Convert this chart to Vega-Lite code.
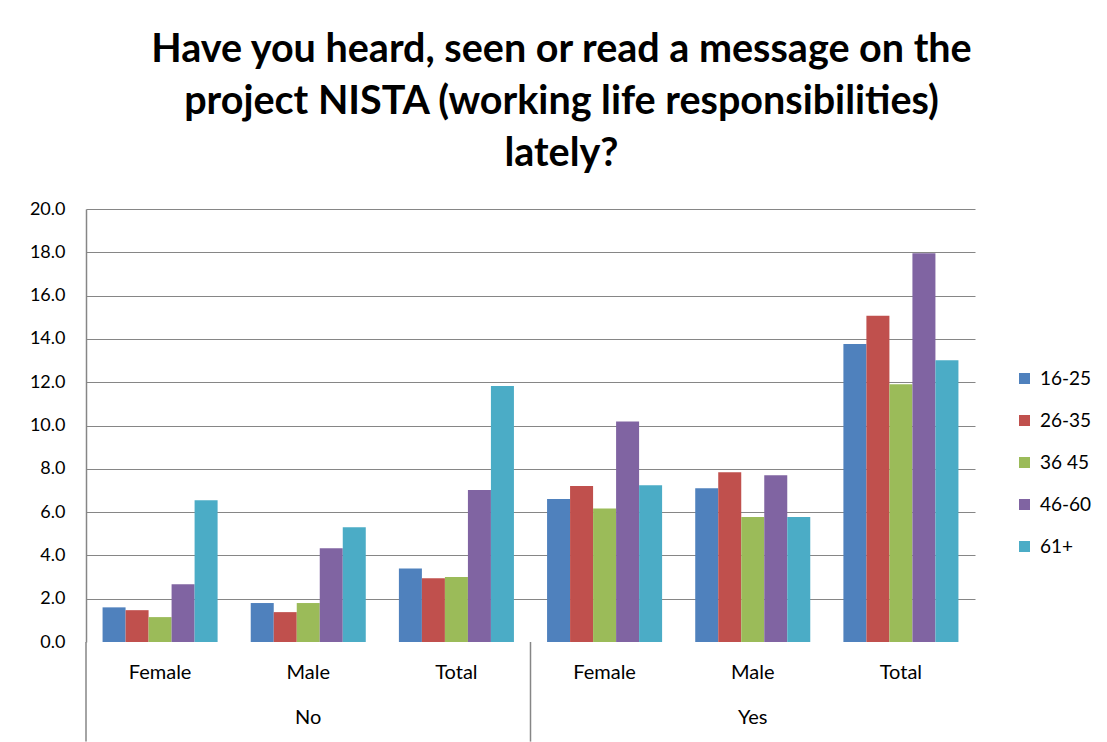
{
  "$schema": "https://vega.github.io/schema/vega-lite/v6.json",
  "autosize": {"type": "none"},
  "width": 889,
  "height": 433,
  "padding": {"left": 86, "top": 209, "right": 132, "bottom": 100},
  "background": "white",
  "title": {
    "text": ["Have you heard, seen or read a message on the", "project NISTA (working life responsibilities)", "lately?"],
    "font": "Lato",
    "fontSize": 39.5,
    "fontWeight": "bold",
    "color": "black",
    "lineHeight": 52,
    "anchor": "middle",
    "dx": 31,
    "offset": 26
  },
  "data": {
    "values": [
      {"cat": "No|Female", "answer": "No", "gender": "Female", "age": "16-25", "value": 1.6},
      {"cat": "No|Female", "answer": "No", "gender": "Female", "age": "26-35", "value": 1.47},
      {"cat": "No|Female", "answer": "No", "gender": "Female", "age": "36 45", "value": 1.15},
      {"cat": "No|Female", "answer": "No", "gender": "Female", "age": "46-60", "value": 2.67},
      {"cat": "No|Female", "answer": "No", "gender": "Female", "age": "61+", "value": 6.55},
      {"cat": "No|Male", "answer": "No", "gender": "Male", "age": "16-25", "value": 1.8},
      {"cat": "No|Male", "answer": "No", "gender": "Male", "age": "26-35", "value": 1.38},
      {"cat": "No|Male", "answer": "No", "gender": "Male", "age": "36 45", "value": 1.8},
      {"cat": "No|Male", "answer": "No", "gender": "Male", "age": "46-60", "value": 4.33},
      {"cat": "No|Male", "answer": "No", "gender": "Male", "age": "61+", "value": 5.3},
      {"cat": "No|Total", "answer": "No", "gender": "Total", "age": "16-25", "value": 3.4},
      {"cat": "No|Total", "answer": "No", "gender": "Total", "age": "26-35", "value": 2.95},
      {"cat": "No|Total", "answer": "No", "gender": "Total", "age": "36 45", "value": 3.0},
      {"cat": "No|Total", "answer": "No", "gender": "Total", "age": "46-60", "value": 7.02},
      {"cat": "No|Total", "answer": "No", "gender": "Total", "age": "61+", "value": 11.82},
      {"cat": "Yes|Female", "answer": "Yes", "gender": "Female", "age": "16-25", "value": 6.6},
      {"cat": "Yes|Female", "answer": "Yes", "gender": "Female", "age": "26-35", "value": 7.2},
      {"cat": "Yes|Female", "answer": "Yes", "gender": "Female", "age": "36 45", "value": 6.17},
      {"cat": "Yes|Female", "answer": "Yes", "gender": "Female", "age": "46-60", "value": 10.19},
      {"cat": "Yes|Female", "answer": "Yes", "gender": "Female", "age": "61+", "value": 7.24},
      {"cat": "Yes|Male", "answer": "Yes", "gender": "Male", "age": "16-25", "value": 7.1},
      {"cat": "Yes|Male", "answer": "Yes", "gender": "Male", "age": "26-35", "value": 7.84},
      {"cat": "Yes|Male", "answer": "Yes", "gender": "Male", "age": "36 45", "value": 5.77},
      {"cat": "Yes|Male", "answer": "Yes", "gender": "Male", "age": "46-60", "value": 7.7},
      {"cat": "Yes|Male", "answer": "Yes", "gender": "Male", "age": "61+", "value": 5.77},
      {"cat": "Yes|Total", "answer": "Yes", "gender": "Total", "age": "16-25", "value": 13.76},
      {"cat": "Yes|Total", "answer": "Yes", "gender": "Total", "age": "26-35", "value": 15.07},
      {"cat": "Yes|Total", "answer": "Yes", "gender": "Total", "age": "36 45", "value": 11.91},
      {"cat": "Yes|Total", "answer": "Yes", "gender": "Total", "age": "46-60", "value": 17.96},
      {"cat": "Yes|Total", "answer": "Yes", "gender": "Total", "age": "61+", "value": 13.01}
    ]
  },
  "encoding": {
    "x": {
      "field": "cat",
      "type": "nominal",
      "sort": null,
      "scale": {"paddingInner": 0, "paddingOuter": 0},
      "axis": {
        "title": null,
        "labelExpr": "split(datum.label, '|')[1]",
        "labelAngle": 0,
        "domain": false,
        "ticks": false,
        "labelPadding": 20,
        "labelFont": "Lato",
        "labelFontSize": 20,
        "labelColor": "black"
      }
    }
  },
  "layer": [
    {
      "mark": {"type": "bar"},
      "encoding": {
        "xOffset": {
          "field": "age",
          "type": "nominal",
          "sort": null,
          "scale": {"paddingInner": 0, "paddingOuter": 0.72}
        },
        "y": {
          "field": "value",
          "type": "quantitative",
          "scale": {"domain": [0, 20], "nice": false},
          "axis": {
            "title": null,
            "values": [0, 2, 4, 6, 8, 10, 12, 14, 16, 18, 20],
            "format": ".1f",
            "ticks": false,
            "domainColor": "#868686",
            "domainWidth": 1.5,
            "gridColor": "#868686",
            "gridOpacity": {"condition": {"test": "datum.value === 0", "value": 0}, "value": 1},
            "labelPadding": 21,
            "labelFont": "Lato",
            "labelFontSize": 18,
            "labelColor": "black"
          }
        },
        "color": {
          "field": "age",
          "type": "nominal",
          "sort": null,
          "scale": {
            "domain": ["16-25", "26-35", "36 45", "46-60", "61+"],
            "range": ["#4F81BD", "#C0504D", "#9BBB59", "#8064A2", "#4BACC6"]
          },
          "legend": {
            "title": null,
            "orient": "none",
            "legendX": 929,
            "legendY": 160,
            "padding": 0,
            "symbolType": "square",
            "symbolSize": 121,
            "symbolStrokeWidth": 0,
            "labelFont": "Lato",
            "labelFontSize": 19,
            "labelColor": "black",
            "labelOffset": 6,
            "rowPadding": 22
          }
        }
      }
    },
    {
      "transform": [{"filter": "datum.gender === 'Female' && datum.age === '16-25'"}],
      "mark": {"type": "rule", "color": "#868686", "strokeWidth": 1.5},
      "encoding": {
        "x": {"field": "cat", "type": "nominal", "sort": null, "bandPosition": 0},
        "y": {"datum": 0, "type": "quantitative"},
        "y2": {"datum": -4.6}
      }
    },
    {
      "transform": [{"filter": "datum.gender === 'Male' && datum.age === '16-25'"}],
      "mark": {"type": "text", "font": "Lato", "fontSize": 20, "color": "black", "baseline": "middle"},
      "encoding": {
        "x": {"field": "cat", "type": "nominal", "sort": null},
        "y": {"datum": -3.5, "type": "quantitative"},
        "text": {"field": "answer"}
      }
    }
  ],
  "config": {"view": {"stroke": null}}
}
